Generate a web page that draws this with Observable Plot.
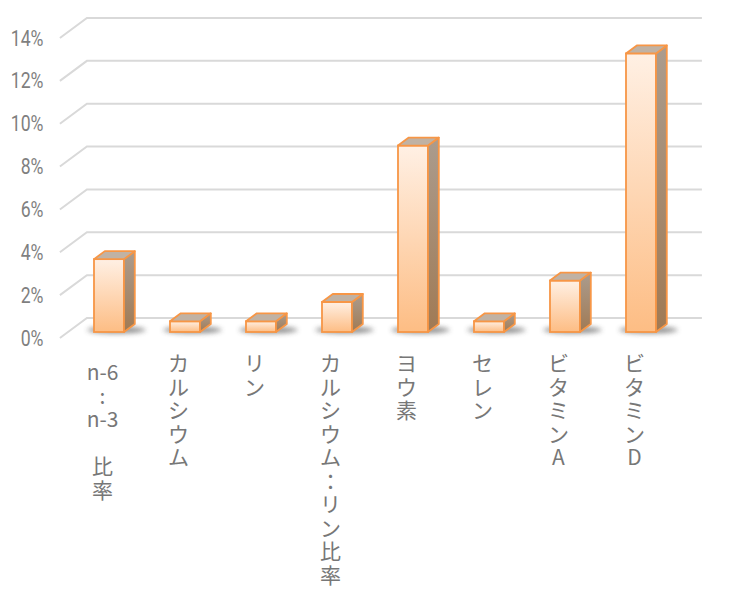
<!DOCTYPE html>
<html><head><meta charset="utf-8">
<script src="https://cdn.jsdelivr.net/npm/d3@7"></script>
<script src="https://cdn.jsdelivr.net/npm/@observablehq/plot@0.6"></script>
<style>body{margin:0;background:#fff}</style>
</head><body><div id="chart"></div>
<script>
const categories = ["n-6：n-3比率","カルシウム","リン","カルシウム：リン比率","ヨウ素","セレン","ビタミンA","ビタミンD"];
const categoryLabels = [
  "n-6\n:\nn-3\n\u3000\n比\n率",
  "カ\nル\nシ\nウ\nム",
  "リ\nン",
  "カ\nル\nシ\nウ\nム\n：\nリ\nン\n比\n率",
  "ヨ\nウ\n素",
  "セ\nレ\nン",
  "ビ\nタ\nミ\nン\nA",
  "ビ\nタ\nミ\nン\nD"
];
const values = [0.034, 0.005, 0.005, 0.014, 0.087, 0.005, 0.024, 0.130];
const yTicks = [0, 0.02, 0.04, 0.06, 0.08, 0.10, 0.12, 0.14];
const yTickLabels = ["0%","2%","4%","6%","8%","10%","12%","14%"];

const data = categories.map((c, i) => ({c, v: values[i], label: categoryLabels[i], i}));

// 3D projection offsets (pixels per depth unit)
const DX = 1.35, DY = -1;

function bw(x) { return typeof x.bandwidth === "function" ? x.bandwidth() : x.bandwidth; }

function backdrop(index, scales) {
  const {x, y} = scales;
  const [r0, r1] = x.range();
  const g = d3.create("svg:g");
  const defs = g.append("defs");
  const gf = defs.append("linearGradient").attr("id","gFront").attr("x1",0).attr("y1",0).attr("x2",0).attr("y2",1);
  gf.append("stop").attr("offset","0").attr("stop-color","#fff0e4");
  gf.append("stop").attr("offset","1").attr("stop-color","#fdbd84");
  const gs = defs.append("linearGradient").attr("id","gSide").attr("x1",0).attr("y1",0).attr("x2",0).attr("y2",1);
  gs.append("stop").attr("offset","0").attr("stop-color","#ab9c8e");
  gs.append("stop").attr("offset","1").attr("stop-color","#a07a54");
  defs.append("filter").attr("id","blur").attr("x","-50%").attr("y","-200%").attr("width","200%").attr("height","500%")
    .append("feGaussianBlur").attr("stdDeviation", 2.5);
  for (const t of yTicks) {
    const yy = y(t);
    const fx = r0 - 6 * DX, fy = yy + 6;
    const bx0 = r0 + 14 * DX, by = yy - 14;
    const bx1 = r1 + 14 * DX;
    g.append("path").attr("d", `M${fx},${fy}L${bx0},${by}L${bx1},${by}`)
      .attr("fill","none").attr("stroke","#d9d9d9").attr("stroke-width",2);
  }
  const w = bw(x);
  for (const d of data) {
    const x0 = x(d.c), x1 = x0 + w, yb = y(0);
    g.append("ellipse").attr("cx", (x0 + x1 + 8 * DX) / 2 + 2).attr("cy", yb - 2)
      .attr("rx", (w + 8 * DX) / 2 + 9).attr("ry", 3.5)
      .attr("fill", "#3a3a3a").attr("opacity", 0.55).attr("filter","url(#blur)");
  }
  return g.node();
}

function faces(index, scales) {
  const {x, y} = scales;
  const w = bw(x);
  const g = d3.create("svg:g");
  const dx = 8 * DX, dy = 8 * DY;
  for (const d of data) {
    const x0 = x(d.c), x1 = x0 + w, yt = y(d.v), yb = y(0);
    g.append("path").attr("d", `M${x1},${yb}L${x1+dx},${yb+dy}L${x1+dx},${yt+dy}L${x1},${yt}Z`)
      .attr("fill","url(#gSide)").attr("stroke","#f79646").attr("stroke-width",1.8).attr("stroke-linejoin","round");
    g.append("path").attr("d", `M${x0},${yt}L${x0+dx},${yt+dy}L${x1+dx},${yt+dy}L${x1},${yt}Z`)
      .attr("fill","#c0b2a4").attr("stroke","#f79646").attr("stroke-width",1.8).attr("stroke-linejoin","round");
  }
  return g.node();
}

const labelFont = "Noto Sans CJK JP, sans-serif";

const chart = Plot.plot({
  width: 730,
  height: 614,
  marginLeft: 68,
  marginRight: 47,
  marginTop: 32,
  marginBottom: 282,
  style: {background: "#fff", overflow: "visible"},
  x: {type: "band", domain: categories, paddingInner: 0.6, paddingOuter: 0.3, axis: null},
  y: {domain: [0, 0.14], axis: null},
  marks: [
    backdrop,
    Plot.barY(data, {x: "c", y: "v", fill: "url(#gFront)", stroke: "#f79646", strokeWidth: 1.8}),
    faces,
    Plot.text(yTicks, {
      y: d => d, text: (d, i) => yTickLabels[i], frameAnchor: "left", textAnchor: "end",
      dx: -25, dy: 6, fontSize: 22, fontFamily: "Roboto, sans-serif",
      fill: "#7f7f7f", className: "ytick"
    }),
    Plot.text(data.filter(d => d.i > 0), {
      x: "c", text: "label", frameAnchor: "bottom", lineAnchor: "top", dy: 22, dx: -7,
      fontSize: 21, lineHeight: 1.12, fontFamily: labelFont, fill: "#777777"
    }),
    Plot.text(data.filter(d => d.i === 0), {
      x: "c", text: "label", frameAnchor: "bottom", lineAnchor: "top", dy: 31, dx: -7,
      fontSize: 21, lineHeight: 1.12, fontFamily: labelFont, fill: "#777777"
    })
  ]
});
document.getElementById("chart").appendChild(chart);
// condense the y tick labels to match the narrow digits of the reference
chart.querySelectorAll(".ytick text").forEach(t => {
  const len = t.getComputedTextLength();
  t.setAttribute("textLength", (len * 0.8).toFixed(1));
  t.setAttribute("lengthAdjust", "spacingAndGlyphs");
});
</script>
</body></html>
